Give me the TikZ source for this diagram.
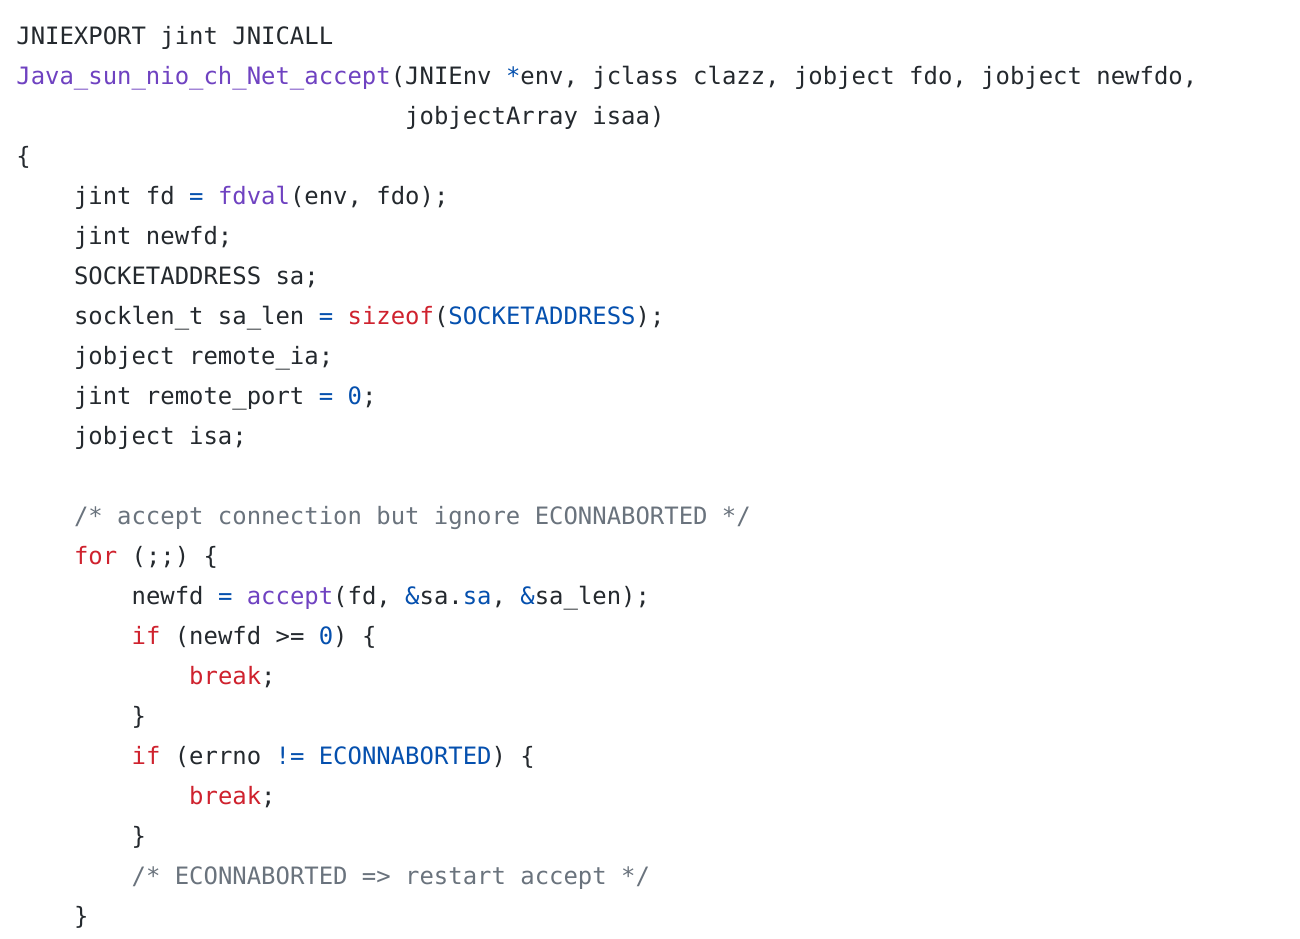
\documentclass[tikz,border=0pt]{standalone}
\usepackage{fontspec}
\usepackage{tikz}
\usepackage{xcolor}
\newfontfamily\codefont{DejaVu Sans Mono}
\definecolor{plaintext}{HTML}{24292E}
\definecolor{funcname}{HTML}{6F42C1}
\definecolor{keyword}{HTML}{CF222E}
\definecolor{constant}{HTML}{0550AE}
\definecolor{comment}{HTML}{6A737D}
\newcommand{\fn}[1]{\textcolor{funcname}{#1}}
\newcommand{\kw}[1]{\textcolor{keyword}{#1}}
\newcommand{\cn}[1]{\textcolor{constant}{#1}}
\newcommand{\cm}[1]{\textcolor{comment}{#1}}
\tikzset{codeline/.style={anchor=base west,inner sep=0pt,text=plaintext,
  font=\codefont\fontsize{11.96pt}{14pt}\selectfont\frenchspacing}}

\begin{document}
\begin{tikzpicture}[x=0.5pt,y=-0.5pt]
            \fill[white] (0,0) rectangle (1300,938);
            \useasboundingbox (0,0) rectangle (1300,938);
            % signature
            \node[codeline] (sig1) at (16,44) {JNIEXPORT jint JNICALL};
            \node[codeline] (sig2) at (16,84) {\fn{Java\_sun\_nio\_ch\_Net\_accept}(JNIEnv \cn{*}env, jclass clazz, jobject fdo, jobject newfdo,};
            \node[codeline] (sig3) at (404.8,124) {jobjectArray isaa)};
            \node[codeline] (open) at (16,164) {\{};
            % locals
            \node[codeline] (decl1) at (73.6,204) {jint fd \cn{=} \fn{fdval}(env, fdo);};
            \node[codeline] (decl2) at (73.6,244) {jint newfd;};
            \node[codeline] (decl3) at (73.6,284) {SOCKETADDRESS sa;};
            \node[codeline] (decl4) at (73.6,324) {socklen\_t sa\_len \cn{=} \kw{sizeof}(\cn{SOCKETADDRESS});};
            \node[codeline] (decl5) at (73.6,364) {jobject remote\_ia;};
            \node[codeline] (decl6) at (73.6,404) {jint remote\_port \cn{=} \cn{0};};
            \node[codeline] (decl7) at (73.6,444) {jobject isa;};
            % accept loop
            \node[codeline] (note1) at (73.6,524) {\cm{/* accept connection but ignore ECONNABORTED */}};
            \node[codeline] (loop) at (73.6,564) {\kw{for} (;;) \{};
            \node[codeline] (call) at (131.2,604) {newfd \cn{=} \fn{accept}(fd, \cn{\&}sa.\cn{sa}, \cn{\&}sa\_len);};
            \node[codeline] (test1) at (131.2,644) {\kw{if} (newfd >= \cn{0}) \{};
            \node[codeline] (brk1) at (188.8,684) {\kw{break};};
            \node[codeline] (end1) at (131.2,724) {\}};
            \node[codeline] (test2) at (131.2,764) {\kw{if} (errno \cn{!=} \cn{ECONNABORTED}) \{};
            \node[codeline] (brk2) at (188.8,804) {\kw{break};};
            \node[codeline] (end2) at (131.2,844) {\}};
            \node[codeline] (note2) at (131.2,884) {\cm{/* ECONNABORTED => restart accept */}};
            \node[codeline] (close) at (73.6,924) {\}};
        \end{tikzpicture}
\end{document}
